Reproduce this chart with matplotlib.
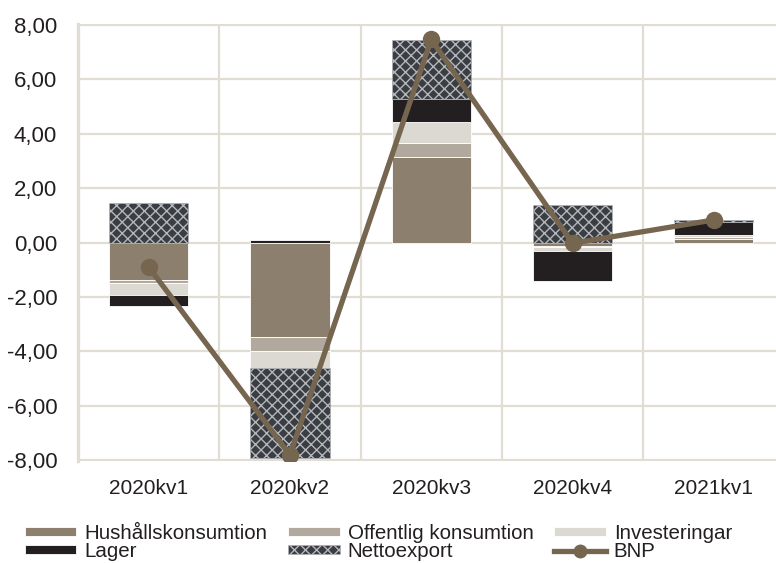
import matplotlib
matplotlib.use("Agg")
import matplotlib.pyplot as plt
import numpy as np
from matplotlib.patches import Patch
from matplotlib.lines import Line2D

# Quarterly contributions to GDP growth (percentage points)
quarters = ["2020kv1", "2020kv2", "2020kv3", "2020kv4", "2021kv1"]
hushall = [-1.38, -3.46, 3.13, -0.12, 0.14]
offentlig = [-0.10, -0.53, 0.54, -0.05, 0.06]
investeringar = [-0.45, -0.64, 0.75, -0.15, 0.07]
lager = [-0.42, 0.09, 0.86, -1.08, 0.50]
nettoexport = [1.44, -3.31, 2.17, 1.38, 0.06]
bnp = [-0.90, -7.82, 7.47, -0.03, 0.83]
yticks = [-8, -6, -4, -2, 0, 2, 4, 6, 8]

series_names = ["Hushållskonsumtion", "Offentlig konsumtion", "Investeringar",
                "Lager", "Nettoexport"]
series_values = [hushall, offentlig, investeringar, lager, nettoexport]

plt.rcParams["font.family"] = ["Liberation Sans", "DejaVu Sans"]
plt.rcParams["hatch.linewidth"] = 1.0

grid_col = "#E2DDD4"
text_col = "#231F20"
styles = [
    dict(facecolor="#8C7F6E", edgecolor="white", linewidth=0.6),
    dict(facecolor="#B1A99D", edgecolor="white", linewidth=0.6),
    dict(facecolor="#DCD8D2", edgecolor="white", linewidth=0.6),
    dict(facecolor="#231F20", edgecolor="white", linewidth=0.6),
    dict(facecolor="#3A3D42", edgecolor="#B4B7BB", linewidth=0.4, hatch="xxx"),
]
line_col = "#76664F"

fig = plt.figure(figsize=(7.76, 5.63), dpi=100)
ax = fig.add_axes([78 / 776, 1 - 461 / 563, 1 - 78 / 776, 437 / 563])

x = np.arange(len(quarters))
width = 0.56
pos_base = np.zeros(len(quarters))
neg_base = np.zeros(len(quarters))
for vals, st in zip(series_values, styles):
    v = np.array(vals)
    base = np.where(v >= 0, pos_base, neg_base)
    ax.bar(x, v, width, bottom=base, zorder=3, **st)
    pos_base = pos_base + np.where(v >= 0, v, 0)
    neg_base = neg_base + np.where(v < 0, v, 0)

ax.plot(x, bnp, color=line_col, linewidth=3.8, marker="o", markersize=11.5,
        zorder=5, solid_capstyle="round")

ax.set_ylim(-8.04, 8.04)
ax.set_xlim(-0.5, (776 - 78) / 141.3 - 0.5)
ax.set_yticks(yticks)
ax.set_yticklabels([f"{t:.2f}".replace(".", ",") for t in yticks])
ax.set_xticks(x)
ax.set_xticklabels(quarters)
ax.set_xticks(np.arange(len(quarters) - 1) + 0.5, minor=True)

ax.grid(axis="y", which="major", color=grid_col, linewidth=1.6, zorder=0)
ax.grid(axis="x", which="minor", color=grid_col, linewidth=1.6, zorder=0)
ax.set_axisbelow(True)
for s in ["top", "right", "bottom"]:
    ax.spines[s].set_visible(False)
ax.spines["left"].set_color(grid_col)
ax.spines["left"].set_linewidth(2.4)
ax.tick_params(axis="both", which="both", length=0, labelcolor=text_col)
ax.tick_params(axis="y", pad=15, labelsize=16)
ax.tick_params(axis="x", pad=13, labelsize=15)

handles = [Patch(**st) for st in styles]
handles.append(Line2D([], [], color=line_col, linewidth=3.8, marker="o",
                      markersize=9))
labels = series_names + ["BNP"]
order = [0, 3, 1, 4, 2, 5]
leg = fig.legend([handles[i] for i in order], [labels[i] for i in order],
                 loc="upper left", bbox_to_anchor=(25 / 776, 1 - 524 / 563),
                 ncol=3, frameon=False, fontsize=14.8, handlelength=2.5,
                 handleheight=0.35, handletextpad=0.4, columnspacing=1.0,
                 labelspacing=-0.05, borderpad=0, borderaxespad=0)
for t in leg.get_texts():
    t.set_color(text_col)

fig.savefig("out.png", dpi=100)
